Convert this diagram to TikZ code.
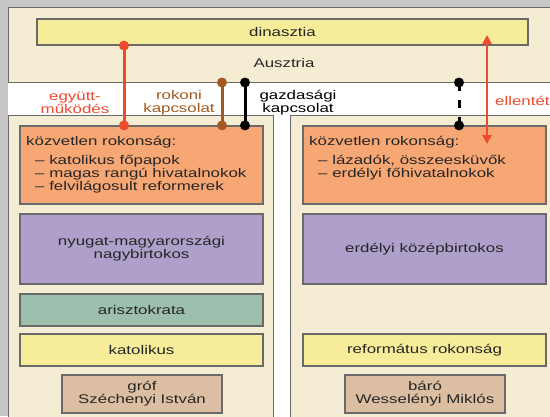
\documentclass[tikz,border=0pt]{standalone}
\usepackage{fontspec}
\setmainfont[FakeStretch=1.34]{Liberation Sans}
\usetikzlibrary{arrows.meta}
\definecolor{bggrey}{HTML}{C8C6C6}
\definecolor{beige}{HTML}{F4EDD3}
\definecolor{yel}{HTML}{F7EC9A}
\definecolor{orng}{HTML}{F7A774}
\definecolor{purp}{HTML}{AEA0CA}
\definecolor{teal2}{HTML}{9DBFAE}
\definecolor{tan2}{HTML}{DCBFA2}
\definecolor{redc}{HTML}{EE4A2E}
\definecolor{brownc}{HTML}{A3591F}
\definecolor{edge}{HTML}{6A6A6A}
\tikzset{
  txt/.style={font=\fontsize{12.6}{13}\selectfont, text=black!85, inner sep=0pt, align=center},
  box/.style={draw=edge, line width=1.2pt, inner sep=0pt, txt},
  panel/.style={draw=edge, line width=1pt, fill=beige, inner sep=0pt},
  conn/.style={line width=3pt},
  dot/.style={circle, fill, inner sep=0pt, minimum size=10pt},
}
\begin{document}
\begin{tikzpicture}[x=1pt,y=-1pt]
\useasboundingbox (0,0) rectangle (550,416);
\fill[bggrey] (0,0) rectangle (550,416);
\fill[white] (8,82) rectangle (550,416);
% panels
\node[panel, minimum width=552pt, minimum height=75pt] (top) at (284,44.5) {};
\node[panel, minimum width=265pt, minimum height=315pt] (lpanel) at (140.5,272.5) {};
\node[panel, minimum width=270pt, minimum height=315pt] (rpanel) at (425,272.5) {};
% top
\node[box, fill=yel, minimum width=491pt, minimum height=26pt] (dinasztia) at (282.5,32) {dinasztia};
\node[txt] (ausztria) at (284,63) {Ausztria};
% left column
\node[box, fill=orng, minimum width=243pt, minimum height=78pt] (lorange) at (141.5,165) {};
\node[txt, align=left, anchor=north west] (ltext) at (26,136) {közvetlen rokonság:\\[6pt]
\hspace*{9pt}– katolikus főpapok\\
\hspace*{9pt}– magas rangú hivatalnokok\\
\hspace*{9pt}– felvilágosult reformerek};
\node[box, fill=purp, minimum width=243pt, minimum height=70pt] (lpurple) at (141.5,249) {nyugat-magyarországi\\nagybirtokos};
\node[box, fill=teal2, minimum width=243pt, minimum height=32pt] (lteal) at (141.5,310) {arisztokrata};
\node[box, fill=yel, minimum width=243pt, minimum height=32pt] (lyellow) at (141.5,350) {katolikus};
\node[box, fill=tan2, minimum width=160pt, minimum height=38pt] (ltan) at (142,394) {gróf\\Széchenyi István};
% right column
\node[box, fill=orng, minimum width=243pt, minimum height=78pt] (rorange) at (424.5,165) {};
\node[txt, align=left, anchor=north west] (rtext) at (309,136) {közvetlen rokonság:\\[6pt]
\hspace*{9pt}– lázadók, összeesküvők\\
\hspace*{9pt}– erdélyi főhivatalnokok};
\node[box, fill=purp, minimum width=243pt, minimum height=70pt] (rpurple) at (424.5,249) {erdélyi középbirtokos};
\node[box, fill=yel, minimum width=243pt, minimum height=32pt] (ryellow) at (424.5,350) {református rokonság};
\node[box, fill=tan2, minimum width=160pt, minimum height=38pt] (rtan) at (425,394) {báró\\Wesselényi Miklós};
% connector end points
\coordinate (r1) at (dinasztia.south -| 124,0);
\coordinate (r2) at (lorange.north -| 124,0);
\coordinate (b1) at (top.south -| 222,0);
\coordinate (b2) at (lorange.north -| 222,0);
\coordinate (k1) at (top.south -| 245,0);
\coordinate (k2) at (lorange.north -| 245,0);
\coordinate (d1) at (top.south -| 459,0);
\coordinate (d2) at (rorange.north -| 459,0);
\coordinate (a1) at (487,35);
\coordinate (a2) at (487,144);
% connectors
\draw[conn, redc] (r1) -- (r2);
\node[dot, redc] (r1d) at (r1) {};
\node[dot, redc] (r2d) at (r2) {};
\draw[conn, brownc] (b1) -- (b2);
\node[dot, brownc] (b1d) at (b1) {};
\node[dot, brownc] (b2d) at (b2) {};
\draw[conn, black] (k1) -- (k2);
\node[dot, black] (k1d) at (k1) {};
\node[dot, black] (k2d) at (k2) {};
\draw[conn, black, dash pattern=on 8pt off 9pt] (d1) -- (d2);
\node[dot, black] (d1d) at (d1) {};
\node[dot, black] (d2d) at (d2) {};
\draw[line width=2.2pt, redc, {Triangle[length=9pt,width=9pt]}-{Triangle[length=9pt,width=9pt]}] (a1) -- (a2);
% labels
\node[txt, text=redc] (l1) at (75,103) {együtt-\\működés};
\node[txt, text=brownc] (l2) at (179,103) {rokoni\\kapcsolat};
\node[txt, text=black] (l3) at (298,103) {gazdasági\\kapcsolat};
\node[txt, text=redc, anchor=west] (l4) at (495,101) {ellentét};
\end{tikzpicture}
\end{document}
